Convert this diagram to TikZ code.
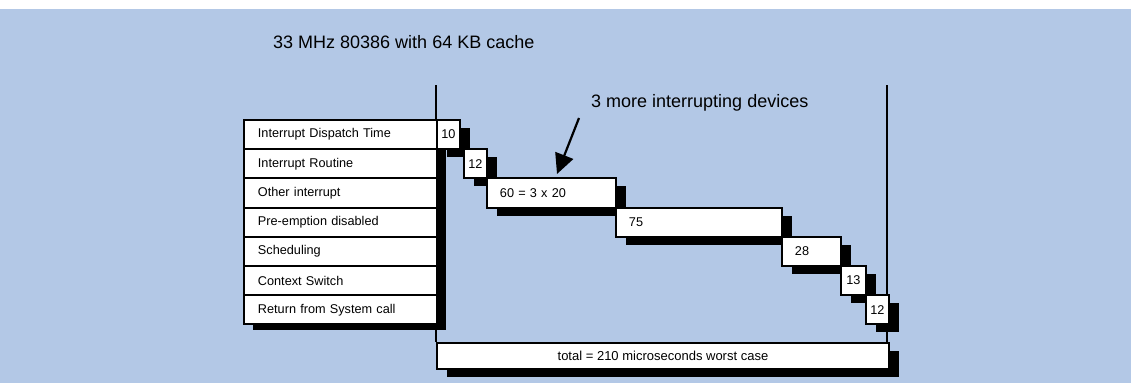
\documentclass[tikz,border=0pt]{standalone}
\usepackage{fontspec}
\setmainfont{Liberation Sans}
\usetikzlibrary{shadows,arrows.meta}
\definecolor{panel}{RGB}{179,200,230}
\begin{document}
\begin{tikzpicture}[x=1pt,y=-1pt,
  rowlabel/.style={draw=black, line width=1.9pt, fill=white, anchor=north west,
    minimum width=193pt, minimum height=29.2pt, inner xsep=14pt, inner ysep=0pt,
    text width=165pt, align=left, font=\fontsize{12.7}{14}\selectfont},
  shadowed/.style={general shadow={fill=black, shadow xshift=10pt, shadow yshift=-8pt}},
  barbox/.style={draw=black, line width=1.9pt, fill=white, anchor=north west,
    minimum height=29.2pt, inner ysep=0pt, shadowed, font=\fontsize{12.7}{14}\selectfont},
  widebar/.style={barbox, inner xsep=13pt, align=left},
  narrowbar/.style={barbox, inner xsep=0pt, align=center},
  axisline/.style={line width=1.4pt, black},
  pointer/.style={line width=2.2pt, -{Triangle[length=20pt,width=19pt]}},
]
\useasboundingbox (0,0) rectangle (1131,383);
\fill[white] (0,0) rectangle (1131,383);
\fill[panel] (0,9) rectangle (1131,383);

% headings
\node[anchor=west, inner sep=0pt, font=\fontsize{18}{20}\selectfont] (title) at (273,42) {33 MHz 80386 with 64 KB cache};
\node[anchor=west, inner sep=0pt, font=\fontsize{18}{20}\selectfont] (note) at (591,103) {3 more interrupting devices};

% start and end markers
\coordinate (ltop) at (436,85);
\coordinate (lbot) at (436,342);
\coordinate (rtop) at (887,85);
\coordinate (rbot) at (887,342);
\draw[axisline] (ltop) -- (lbot);
\draw[axisline] (rtop) -- (rbot);

% shadow behind the column of row labels
\fill[black] (253,127) rectangle (446,330);

% row labels
\node[rowlabel] (r1) at (243,119) {Interrupt Dispatch Time};
\node[rowlabel] (r2) at (243,148.2) {Interrupt Routine};
\node[rowlabel] (r3) at (243,177.4) {Other interrupt};
\node[rowlabel] (r4) at (243,206.6) {Pre-emption disabled};
\node[rowlabel] (r5) at (243,235.8) {Scheduling};
\node[rowlabel] (r6) at (243,265) {Context Switch};
\node[rowlabel] (r7) at (243,294.2) {Return from System call};

% time bars
\node[narrowbar, minimum width=23pt] (b1) at (436,119) {10};
\node[narrowbar, minimum width=23pt] (b2) at (463,148.2) {12};
\node[widebar, minimum width=129pt, text width=103pt] (b3) at (486,177.4) {60 = 3 x 20};
\node[widebar, minimum width=166pt, text width=140pt] (b4) at (615,206.6) {75};
\node[widebar, minimum width=59pt, text width=33pt] (b5) at (781,235.8) {28};
\node[narrowbar, minimum width=25pt] (b6) at (840,265) {13};
\node[narrowbar, minimum width=23pt] (b7) at (865,294.2) {12};

% total
\node[barbox, minimum width=452pt, minimum height=26pt, inner xsep=0pt, font=\fontsize{13}{15}\selectfont] (total) at (436,342) {total = 210 microseconds worst case};

% pointer from the note to the interrupt bar
\coordinate (tail) at (579,118);
\coordinate (tip) at (557,174);
\draw[pointer] (tail) -- (tip);
\end{tikzpicture}
\end{document}
